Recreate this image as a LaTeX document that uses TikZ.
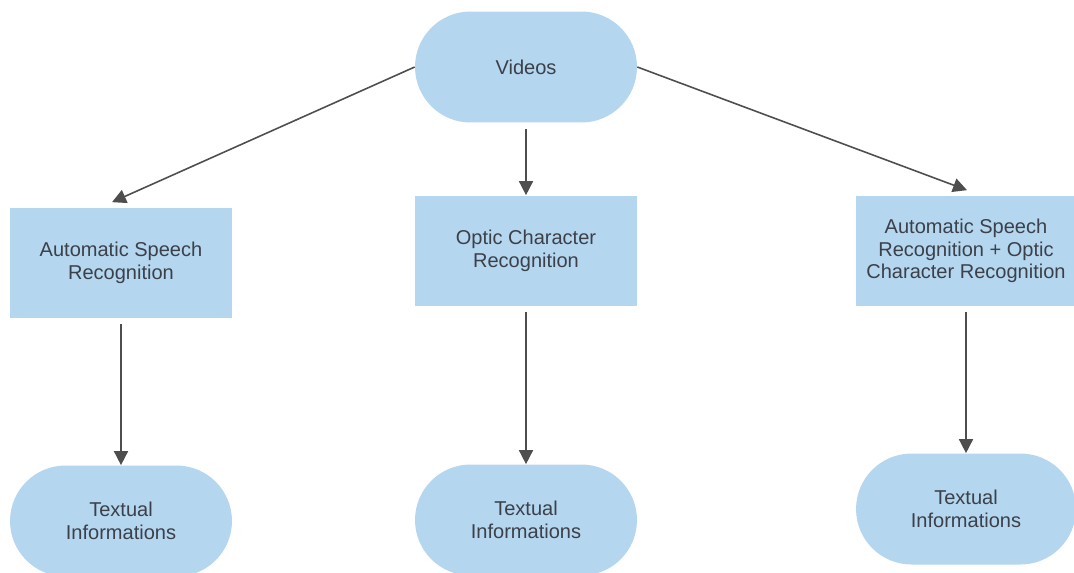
\documentclass[tikz,border=0pt]{standalone}
\usepackage{fontspec}
\setmainfont{Liberation Sans}
\usetikzlibrary{arrows.meta,shapes.misc}

\definecolor{boxblue}{HTML}{B4D6EF}
\definecolor{inkgray}{HTML}{3B4049}
\definecolor{wiregray}{HTML}{4E4E4E}

\begin{document}
\begin{tikzpicture}[x=0.02cm,y=-0.02cm]
    \useasboundingbox (0,0) rectangle (1074,572);
    \clip (0,0) rectangle (1074,572);

    \tikzstyle{stage} = [rectangle, fill=boxblue, text=inkgray, inner sep=0pt, align=center, minimum width=4.44cm, minimum height=2.22cm, font=\fontsize{11.4}{12.8}\selectfont]
    \tikzstyle{blob} = [stage, rounded rectangle]
    \tikzstyle{link} = [draw=wiregray, line width=0.9pt, -{Triangle[length=0.28cm,width=0.28cm]}]

    % source
    \node[blob] (videos) at (526,67) {Videos};

    % recognition stages
    \node[stage] (asr) at (121,263) {Automatic Speech\\Recognition};
    \node[stage] (ocr) at (526,251) {Optic Character\\Recognition};
    \node[stage, minimum width=4.4cm] (both) at (966,251) {Automatic Speech\\Recognition + Optic\\Character Recognition};

    % outputs
    \node[blob] (txt1) at (121,521) {Textual\\Informations};
    \node[blob] (txt2) at (526,520) {Textual\\Informations};
    \node[blob, minimum width=4.4cm] (txt3) at (966,509) {Textual\\Informations};

    \draw[link] (videos.west) -- ([xshift=-0.18cm,yshift=0.1cm]asr.north);
    \draw[link] (videos.east) -- ([xshift=0.02cm,yshift=0.1cm]both.north);
    \draw[link, shorten <=0.12cm] (videos.south) -- (ocr.north);

    \draw[link, shorten <=0.1cm] (asr.south) -- (txt1.north);
    \draw[link, shorten <=0.1cm] (ocr.south) -- (txt2.north);
    \draw[link, shorten <=0.1cm] (both.south) -- (txt3.north);
\end{tikzpicture}
\end{document}
